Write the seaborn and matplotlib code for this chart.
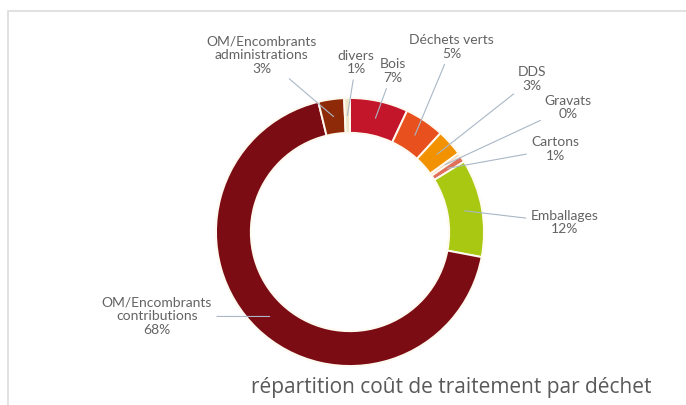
import matplotlib
matplotlib.use('Agg')
import matplotlib.pyplot as plt
import seaborn as sns
import numpy as np
from matplotlib.patches import Rectangle

# data (clockwise from 12 o'clock)
categories = ['Bois', 'Déchets verts', 'DDS', 'Gravats', 'Cartons', 'Emballages',
              'OM/Encombrants\ncontributions', 'OM/Encombrants\nadministrations', 'divers']
shares = [7.0, 4.8, 3.2, 0.4, 0.8, 11.8, 68.2, 3.1, 0.7]
colors = ['#c4162a', '#e8501e', '#f39200', '#f6cfae', '#e0705a', '#a8c812',
          '#7b0c14', '#8f2a08', '#eee6c8']
# label centres in pie units (radius = 1)
label_pos = [(0.32, 1.20), (0.76, 1.38), (1.36, 1.14), (1.63, 0.93), (1.53, 0.62),
             (1.60, 0.07), (-1.44, -0.63), (-0.66, 1.32), (0.045, 1.265)]
title = 'répartition coût de traitement par déchet'

sns.set_theme(style='white')
plt.rcParams['font.family'] = ['Lato', 'DejaVu Sans']

W, H = 686, 405
fig = plt.figure(figsize=(W / 100, H / 100), dpi=100)

# pie centre at (350, 232) px from top-left, radius 134 px
cx, cy, R, half = 350, 232, 134, 200
ax = fig.add_axes([(cx - half) / W, (H - cy - half) / H, 2 * half / W, 2 * half / H])

wedges, _ = ax.pie(shares, colors=colors, startangle=90, counterclock=False,
                   radius=1, wedgeprops=dict(width=0.26, edgecolor='#fffaf0', linewidth=1.4))
ax.set_xlim(-half / R, half / R)
ax.set_ylim(-half / R, half / R)
ax.set_aspect('equal')
ax.axis('off')

total = sum(shares)
for w, name, v, pos in zip(wedges, categories, shares, label_pos):
    mid = np.deg2rad((w.theta1 + w.theta2) / 2)
    r = 0.87
    ax.annotate(f"{name}\n{round(v / total * 100)}%",
                xy=(r * np.cos(mid), r * np.sin(mid)), xytext=pos,
                ha='center', va='center', fontsize=10, color='#636363',
                linespacing=1.15,
                arrowprops=dict(arrowstyle='-', color='#a9b7c6', lw=0.8,
                                shrinkA=1, shrinkB=0))

fig.text(451 / W, 1 - 387 / H, title, ha='center', va='center',
         fontsize=15, color='#595959', family=['Open Sans', 'DejaVu Sans'])

# light frame of the chart area
fig.patches.append(Rectangle((8 / W, -0.05), 1.0, (H - 11) / H + 0.05,
                             transform=fig.transFigure, fill=False,
                             edgecolor='#dcdcdc', lw=1.2))

fig.savefig('out.png', dpi=100)
